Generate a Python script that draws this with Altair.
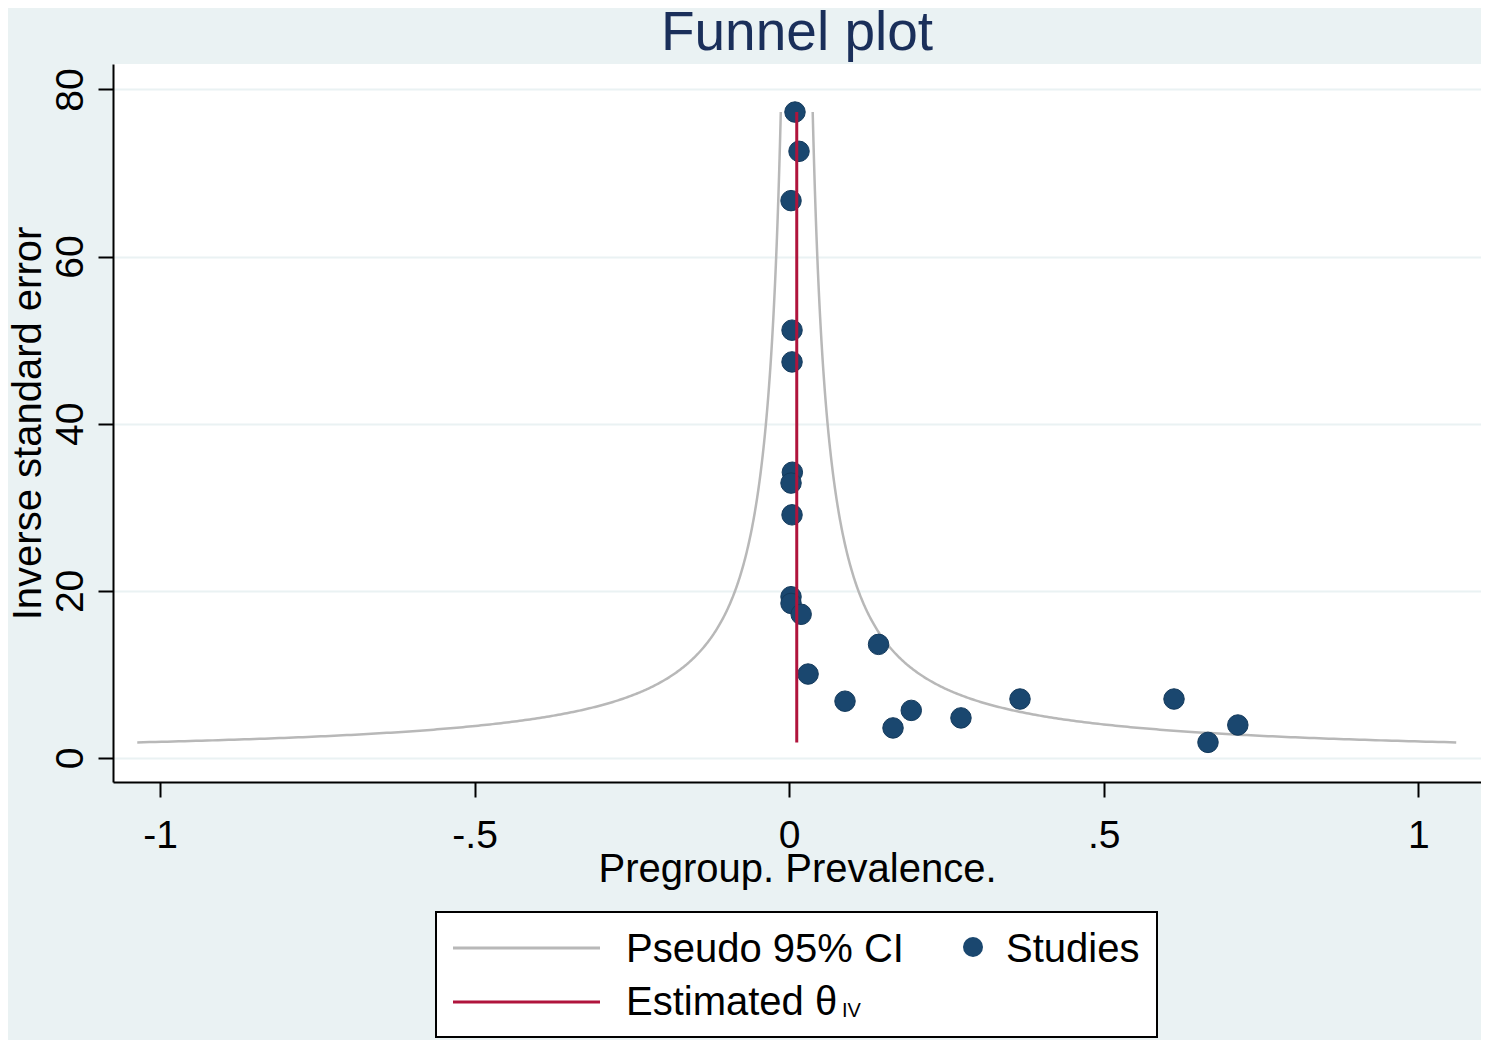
import altair as alt
import pandas as pd
import numpy as np

# ---- data ----
prevalence = [0.0092, 0.0156, 0.0029, 0.0045, 0.0045, 0.0050, 0.0029, 0.0045,
              0.0029, 0.0029, 0.0190, 0.142, 0.030, 0.0887, 0.165, 0.194,
              0.273, 0.3668, 0.6116, 0.6656, 0.713]
inv_se = [77.3, 72.6, 66.7, 51.2, 47.4, 34.2, 32.9, 29.1,
          19.3, 18.5, 17.2, 13.6, 10.05, 6.8, 3.6, 5.7,
          4.8, 7.06, 7.06, 1.87, 3.95]
theta_iv = 0.012
x_ticks = [-1, -0.5, 0, 0.5, 1]
y_ticks = [0, 20, 40, 60, 80]

FONT = "Liberation Sans"
BG = "#EAF2F3"
NAVY = "#1a476f"
RED = "#B0143C"
GRAY = "#B8B8B8"

studies = pd.DataFrame({"prev": prevalence, "invse": inv_se})

# pseudo 95% CI around the estimate, over the range of study precisions
grid = np.geomspace(min(inv_se), max(inv_se), 400)
ci = pd.concat([
    pd.DataFrame({"invse": grid, "x": theta_iv - 1.96 / grid, "side": "lower"}),
    pd.DataFrame({"invse": grid, "x": theta_iv + 1.96 / grid, "side": "upper"}),
])
est = pd.DataFrame({"theta": [theta_iv], "lo": [min(inv_se)], "hi": [max(inv_se)]})
one = pd.DataFrame({"k": [0]})

xs = alt.Scale(domain=[-1.0747, 1.0995], nice=False, zero=False)
ys = alt.Scale(domain=[-2.87, 83.05], nice=False, zero=False)

x_axis = alt.Axis(
    values=x_ticks,
    labelExpr="replace(toString(datum.value), '0.', '.')",
    title="Pregroup. Prevalence.",
    grid=False, tickSize=15, tickWidth=2, tickColor="black",
    domainColor="black", domainWidth=2,
    labelFont=FONT, labelFontSize=39, labelColor="black",
    labelBaseline="alphabetic", labelPadding=50, labelFlush=False, labelOverlap=False,
    titleFont=FONT, titleFontSize=40, titleFontWeight="normal", titleColor="black",
    titleX=684, titleY=99, titleAlign="center", titleBaseline="alphabetic",
)
y_axis = alt.Axis(
    values=y_ticks,
    title="Inverse standard error",
    grid=True, gridColor=BG, gridWidth=2,
    tickSize=15, tickWidth=2, tickColor="black",
    domainColor="black", domainWidth=2,
    labelFont=FONT, labelFontSize=39, labelColor="black",
    labelAngle=270, labelAlign="center", labelBaseline="alphabetic",
    labelPadding=16, labelFlush=False, labelOverlap=False,
    titleFont=FONT, titleFontSize=40, titleFontWeight="normal", titleColor="black",
    titleAngle=270, titleX=-73, titleY=359, titleAlign="center", titleBaseline="alphabetic",
)

ci_lines = alt.Chart(ci).mark_line(color=GRAY, strokeWidth=2.5).encode(
    x=alt.X("x:Q", scale=xs, axis=x_axis),
    y=alt.Y("invse:Q", scale=ys, axis=y_axis),
    detail="side:N",
    order="invse:Q",
)

points = alt.Chart(studies).mark_circle(
    size=420, color=NAVY, opacity=1, stroke="#143a5c", strokeWidth=1
).encode(x="prev:Q", y="invse:Q")

est_line = alt.Chart(est).mark_rule(color=RED, strokeWidth=3).encode(
    x="theta:Q", y="lo:Q", y2="hi:Q"
)

# ---- legend box below the plot ----
box = alt.Chart(one).mark_rect(fill="white", stroke="black", strokeWidth=2).encode(
    x=alt.value(323), x2=alt.value(1044), y=alt.value(848), y2=alt.value(973)
)
leg_gray = alt.Chart(one).mark_rule(color=GRAY, strokeWidth=3).encode(
    x=alt.value(340), x2=alt.value(487), y=alt.value(884)
)
leg_red = alt.Chart(one).mark_rule(color=RED, strokeWidth=3).encode(
    x=alt.value(340), x2=alt.value(487), y=alt.value(938)
)
leg_dot = alt.Chart(one).mark_circle(size=400, color=NAVY, opacity=1).encode(
    x=alt.value(860), y=alt.value(883)
)

def leg_text(txt, x, y, size=40):
    return alt.Chart(one).mark_text(
        align="left", baseline="alphabetic", font=FONT, fontSize=size, color="black"
    ).encode(x=alt.value(x), y=alt.value(y), text=alt.value(txt))

chart = alt.layer(
    ci_lines, points, est_line,
    box, leg_gray, leg_red, leg_dot,
    leg_text("Pseudo 95% CI", 513, 898),
    leg_text("Studies", 893, 898),
    leg_text("Estimated θ", 513, 951),
    leg_text("IV", 729, 953, 20),
).properties(
    width=1368, height=718,
    title=alt.TitleParams("Funnel plot", font=FONT, fontSize=55, fontWeight="normal",
                          color="#1a2f5a", anchor="middle", frame="group", offset=2),
    autosize=alt.AutoSizeParams(type="none"),
    padding={"left": 105, "top": 56, "right": 0, "bottom": 258},
).configure(background=BG).configure_view(fill="white", stroke=None)

chart.save("out.html", embed_options={"renderer": "svg", "actions": False})
